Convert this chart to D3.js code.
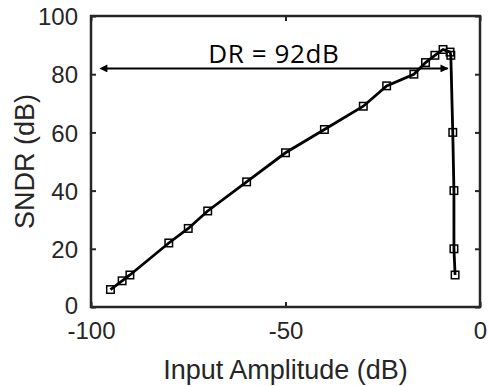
<!DOCTYPE html>
<html>
<head>
<meta charset="utf-8">
<script src="https://cdn.jsdelivr.net/npm/d3@7"></script>
<style>
  body { margin: 0; background: #fff; }
  text { font-family: "Liberation Sans", Arial, sans-serif; fill: #262626; }
</style>
</head>
<body>
<div id="chart"></div>
<script>
// input amplitude (dB) and measured SNDR (dB)
const inputDb = [-95, -92, -90, -80, -75, -70, -60, -50, -40, -30, -24, -17, -14, -11.6, -9.5, -7.7, -7.5, -7, -6.7, -6.7, -6.4];
const sndrDb  = [6, 9, 11, 22, 27, 33, 43, 53, 61, 69, 76, 80, 84, 86.5, 88.5, 87.6, 86.5, 60, 40, 20, 11];
const xTicks = [-100, -50, 0];
const yTicks = [0, 20, 40, 60, 80, 100];
const drRange = [-96, -8.3];
const drLevel = 82;
const drLabel = 'DR = 92dB';

const width = 489, height = 386;
const margin = { top: 16, right: 9, bottom: 79, left: 91 };
const iw = width - margin.left - margin.right;
const ih = height - margin.top - margin.bottom;

const svg = d3.select('#chart').append('svg')
  .attr('width', width).attr('height', height);

const defs = svg.append('defs');
['start', 'end'].forEach(k => {
  defs.append('marker')
    .attr('id', 'arrow-' + k)
    .attr('viewBox', '0 0 10 10')
    .attr('refX', k === 'end' ? 9 : 1).attr('refY', 5)
    .attr('markerWidth', 11).attr('markerHeight', 8)
    .attr('markerUnits', 'userSpaceOnUse')
    .attr('orient', 'auto-start-reverse')
    .append('path').attr('d', 'M0,0 L10,5 L0,10 Z').attr('fill', '#000');
});

const g = svg.append('g').attr('transform', `translate(${margin.left},${margin.top})`);

const x = d3.scaleLinear().domain([-100, 0]).range([0, iw]);
const y = d3.scaleLinear().domain([0, 100]).range([ih, 0]);

// ticks (inward, mirrored like MATLAB box)
const tickLen = 5;
const axisColor = '#262626';
const fmt = d => String(d); // plain hyphen minus
const bottomAxis = g.append('g').attr('transform', `translate(0,${ih})`)
  .call(d3.axisBottom(x).tickValues(xTicks).tickSizeInner(-tickLen).tickSizeOuter(0).tickPadding(20).tickFormat(fmt));
const topAxis = g.append('g')
  .call(d3.axisTop(x).tickValues(xTicks).tickSizeInner(-tickLen).tickSizeOuter(0).tickFormat(''));
const leftAxis = g.append('g')
  .call(d3.axisLeft(y).tickValues(yTicks).tickSizeInner(-tickLen).tickSizeOuter(0).tickPadding(13).tickFormat(fmt));
const rightAxis = g.append('g').attr('transform', `translate(${iw},0)`)
  .call(d3.axisRight(y).tickValues(yTicks).tickSizeInner(-tickLen).tickSizeOuter(0).tickFormat(''));

[bottomAxis, topAxis, leftAxis, rightAxis].forEach(a => {
  a.select('.domain').remove();
  a.attr('font-family', null);
  a.selectAll('line').attr('stroke', axisColor).attr('stroke-width', 2);
  a.selectAll('text').style('font-size', '24px')
    .style('font-family', '"Liberation Sans", Arial, sans-serif').attr('fill', axisColor);
});
bottomAxis.selectAll('text').attr('dy', '0.5em');
leftAxis.selectAll('text').attr('dy', '0.36em');
leftAxis.selectAll('.tick').filter(d => d === 0).select('text').attr('dy', '0.25em');

// box
g.append('rect')
  .attr('x', 0).attr('y', 0).attr('width', iw).attr('height', ih)
  .attr('fill', 'none').attr('stroke', axisColor).attr('stroke-width', 2.5);

// data line
const pts = inputDb.map((v, i) => [v, sndrDb[i]]);
g.append('path')
  .datum(pts)
  .attr('fill', 'none').attr('stroke', '#000').attr('stroke-width', 2.8)
  .attr('d', d3.line().x(d => x(d[0])).y(d => y(d[1])));

const ms = 7.5;
g.selectAll('rect.mk').data(pts).enter().append('rect')
  .attr('class', 'mk')
  .attr('x', d => x(d[0]) - ms / 2).attr('y', d => y(d[1]) - ms / 2)
  .attr('width', ms).attr('height', ms)
  .attr('fill', 'none').attr('stroke', '#000').attr('stroke-width', 1.5);

// DR arrow
g.append('line')
  .attr('x1', x(drRange[0])).attr('x2', x(drRange[1]))
  .attr('y1', y(drLevel)).attr('y2', y(drLevel))
  .attr('stroke', '#000').attr('stroke-width', 2)
  .attr('marker-start', 'url(#arrow-start)')
  .attr('marker-end', 'url(#arrow-end)');

g.append('text')
  .attr('x', x(-53)).attr('y', y(drLevel) - 5)
  .attr('text-anchor', 'middle')
  .style('font-size', '26px').style('letter-spacing', '0.6px')
  .style('font-family', '"Open Sans", "Liberation Sans", sans-serif')
  .style('fill', '#000')
  .text(drLabel);

// axis titles
svg.append('text')
  .attr('x', margin.left + iw / 2).attr('y', 379)
  .attr('text-anchor', 'middle')
  .style('font-size', '27px')
  .text('Input Amplitude (dB)');

svg.append('text')
  .attr('transform', `translate(34,${margin.top + ih / 2}) rotate(-90)`)
  .attr('text-anchor', 'middle')
  .style('font-size', '27px')
  .text('SNDR (dB)');
</script>
</body>
</html>
